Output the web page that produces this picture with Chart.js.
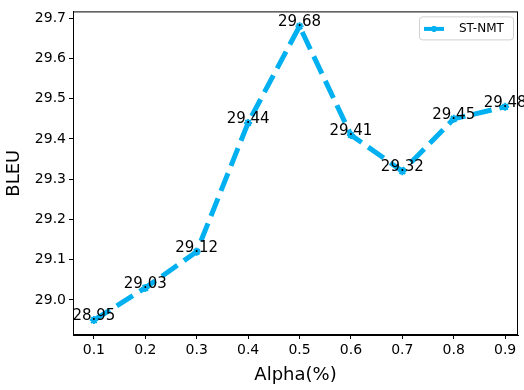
<!DOCTYPE html>
<html>
<head>
<meta charset="utf-8">
<script src="https://cdn.jsdelivr.net/npm/chart.js@4/dist/chart.umd.min.js"></script>
<style>
  html, body { margin: 0; padding: 0; background: #fff; }
  #wrap { width: 524px; height: 390px; }
</style>
</head>
<body>
<div id="wrap"><canvas id="bleu-chart"></canvas></div>
<script>
const alphas = [0.1, 0.2, 0.3, 0.4, 0.5, 0.6, 0.7, 0.8, 0.9];
const bleu = [28.95, 29.03, 29.12, 29.44, 29.68, 29.41, 29.32, 29.45, 29.48];
const xTicks = [0.1, 0.2, 0.3, 0.4, 0.5, 0.6, 0.7, 0.8, 0.9];
const yTicks = [29.0, 29.1, 29.2, 29.3, 29.4, 29.5, 29.6, 29.7];
const seriesName = "ST-NMT";
const lineColor = "#00b0f0";
const font = "DejaVu Sans";

// value labels, frame and legend box in matplotlib style
const extras = {
  id: "extras",
  afterDatasetsDraw(chart) {
    const { ctx, chartArea } = chart;
    const meta = chart.getDatasetMeta(0);
    ctx.save();
    ctx.fillStyle = "#000";
    ctx.font = `15px "${font}"`;
    ctx.textAlign = "center";
    ctx.textBaseline = "alphabetic";
    meta.data.forEach((pt, i) => {
      ctx.fillText(bleu[i].toFixed(2), pt.x, pt.y);
    });

    ctx.strokeStyle = "#000";
    ctx.lineWidth = 1;
    ctx.strokeRect(chartArea.left + 0.5, chartArea.top + 0.5,
      chartArea.right - chartArea.left - 1, chartArea.bottom - chartArea.top - 1);

    // legend
    const lx = chartArea.right - 99, ly = chartArea.top + 5;
    ctx.fillStyle = "rgba(255,255,255,0.8)";
    ctx.strokeStyle = "#d0d0d0";
    ctx.beginPath();
    ctx.roundRect(lx + 0.5, ly + 0.5, 94, 23, 3);
    ctx.fill();
    ctx.stroke();
    ctx.strokeStyle = lineColor;
    ctx.lineWidth = 4;
    ctx.beginPath();
    ctx.moveTo(lx + 5, ly + 12.5);
    ctx.lineTo(lx + 25, ly + 12.5);
    ctx.stroke();
    ctx.fillStyle = lineColor;
    ctx.lineWidth = 2;
    Chart.helpers.drawPoint(ctx, { pointStyle: "star", radius: 3, borderWidth: 2 }, lx + 15, ly + 12.5);
    ctx.fillStyle = "#000";
    ctx.font = `12px "${font}"`;
    ctx.textAlign = "left";
    ctx.textBaseline = "middle";
    ctx.fillText(seriesName, lx + 40, ly + 12.5);
    ctx.restore();
  },
};

new Chart(document.getElementById("bleu-chart"), {
  type: "line",
  data: {
    datasets: [
      {
        label: seriesName,
        data: alphas.map((a, i) => ({ x: a, y: bleu[i] })),
        borderColor: lineColor,
        backgroundColor: lineColor,
        borderWidth: 5,
        borderDash: [19, 8],
        borderCapStyle: "butt",
        tension: 0,
        pointStyle: "star",
        pointRadius: 4,
        pointBorderWidth: 2,
        pointBorderColor: lineColor,
      },
    ],
  },
  options: {
    responsive: true,
    maintainAspectRatio: false,
    animation: false,
    layout: { padding: { left: 0, right: 3, top: 3, bottom: 0 } },
    plugins: {
      legend: { display: false },
      tooltip: { enabled: false },
    },
    scales: {
      x: {
        type: "linear",
        min: 0.0594,
        max: 0.925,
        afterBuildTicks: (scale) => { scale.ticks = xTicks.map((v) => ({ value: v })); },
        afterFit: (scale) => { scale.height = 55; },
        grid: { drawOnChartArea: false, drawTicks: true, tickLength: 4, color: "#000" },
        border: { display: true, color: "#000" },
        ticks: {
          color: "#000",
          font: { family: font, size: 14 },
          padding: 3,
          callback: (v) => v.toFixed(1),
        },
        title: {
          display: true,
          text: "Alpha(%)",
          color: "#000",
          font: { family: font, size: 18 },
          padding: { top: 0 },
        },
      },
      y: {
        min: 28.913,
        max: 29.717,
        afterBuildTicks: (scale) => { scale.ticks = yTicks.map((v) => ({ value: v })); },
        afterFit: (scale) => { scale.width = 73; },
        grid: { drawOnChartArea: false, drawTicks: true, tickLength: 4, color: "#000" },
        border: { display: true, color: "#000" },
        ticks: {
          color: "#000",
          font: { family: font, size: 14 },
          padding: 3,
          callback: (v) => v.toFixed(1),
        },
        title: {
          display: true,
          text: "BLEU",
          color: "#000",
          font: { family: font, size: 18 },
          padding: { bottom: 4 },
        },
      },
    },
  },
  plugins: [extras],
});
</script>
</body>
</html>
